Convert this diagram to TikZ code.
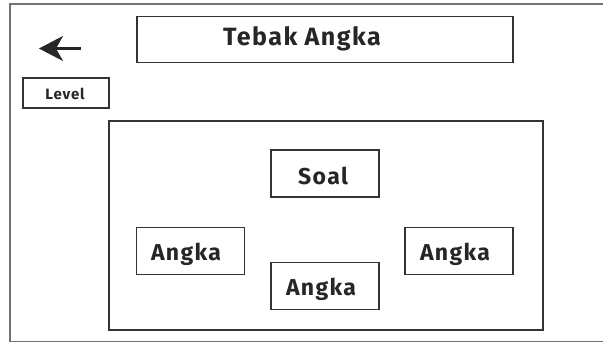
\documentclass[tikz,border=0pt]{standalone}
\usepackage{fontspec}
\setmainfont{Fira Sans}
\newfontfamily\handfont{Fira Sans}[LetterSpace=6]
\usetikzlibrary{arrows.meta}
\begin{document}
\begin{tikzpicture}[x=1pt,y=-1pt,
  box/.style={draw=black!80, line width=1.8pt, inner sep=0pt},
  lbl/.style={font=\handfont\fontsize{23}{28}\selectfont\bfseries, text=black!85},
]
\useasboundingbox (0,0) rectangle (603,343);
\fill[white] (0,0) rectangle (603,343);
\begin{scope}
\clip (0,0) rectangle (603,343);
\draw[black!55, line width=1.6pt] (10,4) rectangle (620,341.5);
\end{scope}
% title
\node[box, minimum width=376pt, minimum height=46pt] (title) at (325,39.5) {};
\node[lbl, font=\handfont\fontsize{25}{30}\selectfont\bfseries] (titletxt) at (302,39) {Tebak Angka};
% back arrow
\coordinate (arrA) at (81,48.5);
\coordinate (arrB) at (39,48.5);
\draw[black!85, line width=2.2pt, -{Stealth[length=24pt,width=25pt,inset=7pt]}] (arrA) -- (arrB);
% level
\node[box, minimum width=86pt, minimum height=30pt] (level) at (66,93) {};
\node[font=\handfont\fontsize{15}{18}\selectfont\bfseries, text=black!85] (leveltxt) at (65,94) {Level};
% inner panel
\node[box, minimum width=434pt, minimum height=209pt] (panel) at (326,225.5) {};
% soal
\node[box, minimum width=108pt, minimum height=47pt] (soal) at (325,173.5) {};
\node[lbl] (soaltxt) at (323,176) {Soal};
% angka boxes
\node[box, minimum width=108pt, minimum height=47pt] (a1) at (190.5,251) {};
\node[lbl] (a1t) at (186,254) {Angka};
\node[box, minimum width=108pt, minimum height=47pt] (a2) at (325,286) {};
\node[lbl] (a2t) at (321,289) {Angka};
\node[box, minimum width=108pt, minimum height=47pt] (a3) at (459,251) {};
\node[lbl] (a3t) at (455,254) {Angka};
\end{tikzpicture}
\end{document}
